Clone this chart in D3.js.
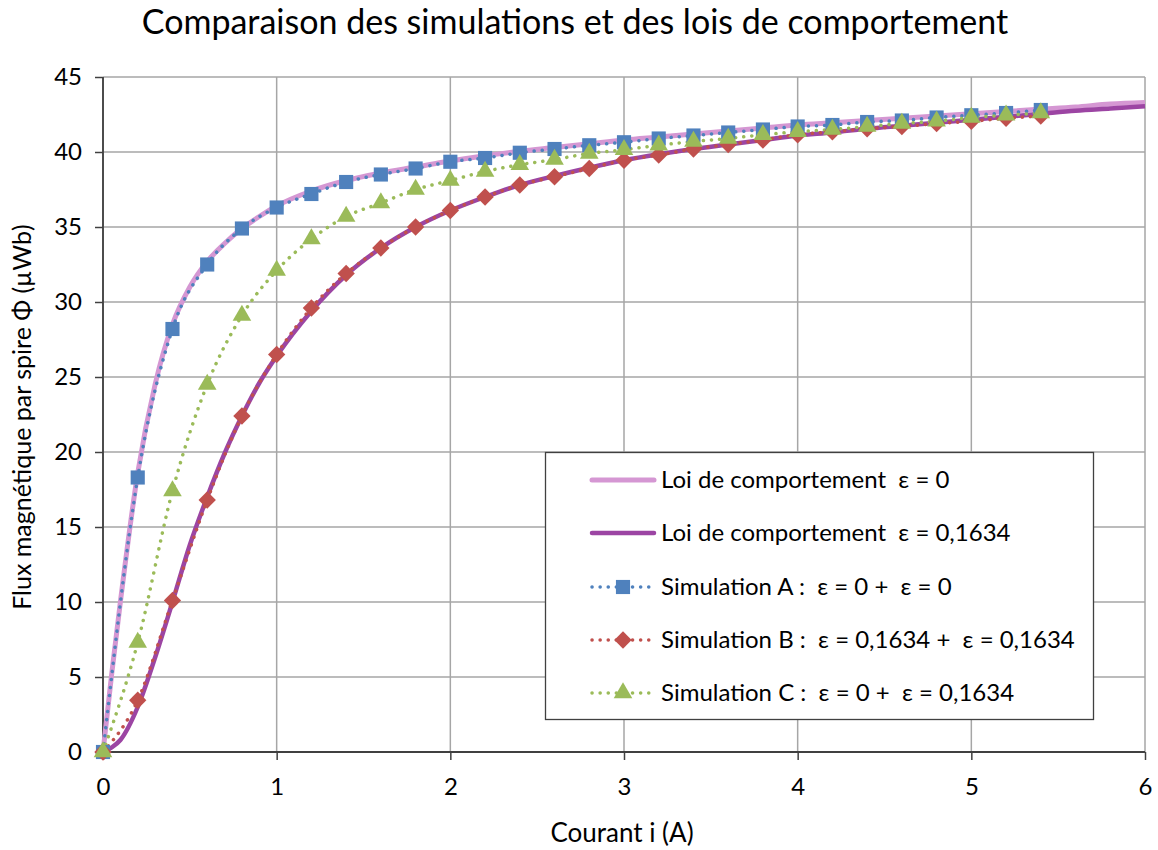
<!DOCTYPE html>
<html><head><meta charset="utf-8">
<script src="https://cdn.jsdelivr.net/npm/d3@7/dist/d3.min.js"></script>
<style>body{margin:0;background:#fff;} text{font-family:Lato,"Open Sans",sans-serif;fill:#000;}</style>
</head><body><svg id="c" width="1158" height="850"></svg>
<script>
// ---- data ----
const lawX = [0,0.05,0.1,0.2,0.3,0.4,0.5,0.6,0.7,0.8,0.9,1.0,1.2,1.4,1.6,1.8,2.0,2.2,2.4,2.6,2.8,3.0,3.2,3.4,3.6,3.8,4.0,4.2,4.4,4.6,4.8,5.0,5.2,5.4,5.6,5.8,6.0];
const law0 = [0,5.2,10.0,18.6,24.5,28.5,31.0,32.7,33.9,34.9,35.7,36.4,37.4,38.1,38.6,39.0,39.4,39.75,40.05,40.3,40.55,40.8,41.0,41.2,41.4,41.6,41.8,41.95,42.1,42.25,42.4,42.55,42.7,42.85,43.0,43.2,43.3];
const law1634 = [0,0.3,0.8,3.0,6.3,10.0,13.8,17.0,19.9,22.4,24.6,26.4,29.4,31.8,33.6,35.0,36.1,37.0,37.8,38.4,38.95,39.45,39.85,40.2,40.5,40.8,41.1,41.3,41.55,41.75,41.95,42.15,42.35,42.55,42.75,42.9,43.05];
const simX = [0,0.2,0.4,0.6,0.8,1.0,1.2,1.4,1.6,1.8,2.0,2.2,2.4,2.6,2.8,3.0,3.2,3.4,3.6,3.8,4.0,4.2,4.4,4.6,4.8,5.0,5.2,5.4];
const simA = [0,18.3,28.2,32.5,34.9,36.3,37.2,38.0,38.5,38.9,39.35,39.6,39.95,40.2,40.45,40.65,40.9,41.1,41.3,41.5,41.7,41.8,42.0,42.1,42.3,42.45,42.6,42.8];
const simB = [0,3.45,10.1,16.8,22.4,26.5,29.6,31.9,33.6,35.0,36.1,37.0,37.8,38.35,38.9,39.45,39.8,40.2,40.5,40.8,41.15,41.35,41.55,41.7,41.9,42.05,42.25,42.4];
const simC = [0,7.3,17.4,24.5,29.1,32.1,34.2,35.7,36.6,37.5,38.1,38.7,39.15,39.5,39.9,40.15,40.45,40.7,40.9,41.15,41.35,41.5,41.7,41.9,42.05,42.3,42.45,42.6];
const xTicks = [0,1,2,3,4,5,6];
const yTicks = [0,5,10,15,20,25,30,35,40,45];
const title = "Comparaison des simulations et des lois de comportement";
const xTitle = "Courant i (A)";
const yTitle = "Flux magnétique par spire Φ (µWb)";
const legendLabels = ["Loi de comportement  ε = 0","Loi de comportement  ε = 0,1634","Simulation A :  ε = 0 +  ε = 0","Simulation B :  ε = 0,1634 +  ε = 0,1634","Simulation C :  ε = 0 +  ε = 0,1634"];

// ---- layout ----
const svg = d3.select("#c");
const L = 103, R = 1145, T = 77, B = 752;
const x = d3.scaleLinear().domain([0,6]).range([L,R]);
const y = d3.scaleLinear().domain([0,45]).range([B,T]);

const colors = {law0:"#d597d3", law1:"#9c45a3", A:"#4f81bd", B:"#c0504d", C:"#9bbb59"};

// gridlines
const g = svg.append("g");
g.selectAll(".hg").data(yTicks).join("line")
  .attr("x1",L).attr("x2",R).attr("y1",d=>y(d)).attr("y2",d=>y(d))
  .attr("stroke","#a6a6a6").attr("stroke-width",1.5);
g.selectAll(".vg").data(xTicks).join("line")
  .attr("y1",T).attr("y2",B).attr("x1",d=>x(d)).attr("x2",d=>x(d))
  .attr("stroke","#a6a6a6").attr("stroke-width",1.5);

// axes
const xAxis = d3.axisBottom(x).tickValues(xTicks).tickSize(8).tickPadding(18).tickFormat(d3.format("d"));
const yAxis = d3.axisLeft(y).tickValues(yTicks).tickSize(8).tickPadding(13).tickFormat(d3.format("d"));
const gx = svg.append("g").attr("transform",`translate(0,${B})`).call(xAxis);
const gy = svg.append("g").attr("transform",`translate(${L},0)`).call(yAxis);
[gx,gy].forEach(a=>{
  a.select(".domain").attr("stroke","#404040").attr("stroke-width",1.8);
  a.selectAll(".tick line").attr("stroke","#404040").attr("stroke-width",1.5);
  a.selectAll(".tick text").style("font-size","24px").attr("fill","#000");
});
gx.select(".domain").attr("d",`M${L},0H${R}`);
gy.select(".domain").attr("d",`M0,${B}V${T}`);

// lines
const lawLine = d3.line().x(d=>x(d[0])).y(d=>y(d[1])).curve(d3.curveMonotoneX);
svg.append("path").datum(lawX.map((v,i)=>[v,law0[i]])).attr("d",lawLine)
  .attr("fill","none").attr("stroke",colors.law0).attr("stroke-width",5);
svg.append("path").datum(lawX.map((v,i)=>[v,law1634[i]])).attr("d",lawLine)
  .attr("fill","none").attr("stroke",colors.law1).attr("stroke-width",4.5);

const sims = [
  {vals:simA,color:colors.A,sym:d3.symbolSquare,size:200,rot:0},
  {vals:simB,color:colors.B,sym:d3.symbolSquare,size:150,rot:45},
  {vals:simC,color:colors.C,sym:d3.symbolTriangle,size:150,rot:0}
];
sims.forEach(s=>{
  const pts = simX.map((v,i)=>[v,s.vals[i]]);
  svg.append("path").datum(pts).attr("d",lawLine)
    .attr("fill","none").attr("stroke",s.color).attr("stroke-width",3.5)
    .attr("stroke-linecap","round").attr("stroke-dasharray","0.1 8");
});
sims.forEach(s=>{
  const pts = simX.map((v,i)=>[v,s.vals[i]]);
  svg.append("g").selectAll("path").data(pts).join("path")
    .attr("d",d3.symbol().type(s.sym).size(s.size))
    .attr("transform",d=>`translate(${x(d[0])},${y(d[1])}) rotate(${s.rot})`)
    .attr("fill",s.color);
});

// titles
svg.append("text").attr("x",575).attr("y",34).attr("text-anchor","middle")
  .style("font-size","34px").text(title);
svg.append("text").attr("x",622).attr("y",842).attr("text-anchor","middle")
  .style("font-size","26px").text(xTitle);
svg.append("text").attr("transform","translate(31,417) rotate(-90)").attr("text-anchor","middle")
  .style("font-size","25px").text(yTitle);

// legend
const lg = svg.append("g");
lg.append("rect").attr("x",545.5).attr("y",452.5).attr("width",548).attr("height",267)
  .attr("fill","#fff").attr("stroke","#404040").attr("stroke-width",1.3);
const rowY = [480,533,587,640,693];
const legendItems = [
  {c:colors.law0,w:5,dash:null,sym:null},
  {c:colors.law1,w:4.5,dash:null,sym:null},
  {c:colors.A,w:3.5,dash:"0.1 8",sym:sims[0]},
  {c:colors.B,w:3.5,dash:"0.1 8",sym:sims[1]},
  {c:colors.C,w:3.5,dash:"0.1 8",sym:sims[2]}
];
legendItems.forEach((it,i)=>{
  const ly = rowY[i];
  const ln = lg.append("line").attr("x1",592).attr("x2",654).attr("y1",ly).attr("y2",ly)
    .attr("stroke",it.c).attr("stroke-width",it.w).attr("stroke-linecap","round");
  if(it.dash) ln.attr("stroke-dasharray",it.dash);
  if(it.sym){
    lg.append("path").attr("d",d3.symbol().type(it.sym.sym).size(it.sym.size))
      .attr("transform",`translate(623,${ly}) rotate(${it.sym.rot})`).attr("fill",it.c);
  }
  lg.append("text").attr("x",661).attr("y",ly).attr("dy","0.35em")
    .style("font-size","24px").style("white-space","pre").text(legendLabels[i]);
});
</script></body></html>
